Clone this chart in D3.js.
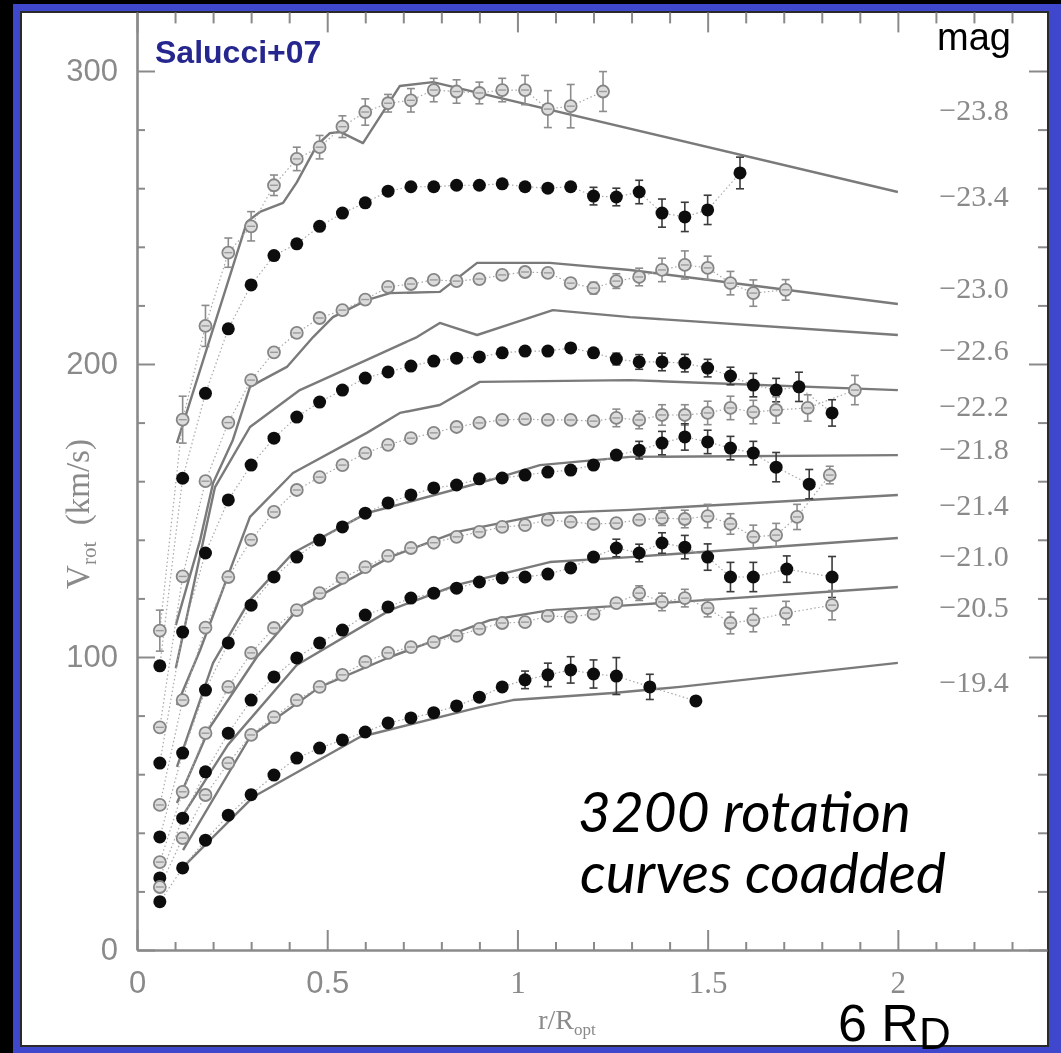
<!DOCTYPE html>
<html><head><meta charset="utf-8">
<script src="https://cdn.jsdelivr.net/npm/d3@7"></script>
<style>html,body{margin:0;padding:0;background:#000;} svg{display:block}</style>
</head><body>
<svg id="chart" width="1061" height="1053"></svg>
<script>
// ---------- data ----------
const R = [0.06,0.12,0.18,0.24,0.30,0.36,0.42,0.48,0.54,0.60,0.66,0.72,0.78,0.84,0.90,0.96,1.02,1.08,1.14,1.20,1.26,1.32,1.38,1.44,1.50,1.56,1.62,1.68,1.74];

const s1_r = R.slice(0,19).concat([1.225]);
const s1_v = [109,181,213,238,247,261,270,274,281,286,289,290,293.5,293,292.5,293.5,293.5,287,288,293];
const s1_e = [7,8,7,5,5,3.5,4,4,3.7,4.5,3,4,4,4,3.7,4,5,6.3,7.4,6.8];

const s2_r = R.slice(0,25).concat([1.585]);
const s2_v = [97,161,190,212,227,237,241,247,251.5,255,259,260.5,260.5,261,261,261.5,260.5,260,260.5,257.3,257,258.7,251.5,250.2,252.6,265.2];
const s2_e = [0,0,0,0,0,0,0,0,0,0,0,0,0,0,0,0,0,0,0,3,3,4,4.8,5,5,5.4];

const s3_r = R.slice(0,27).concat([1.705]);
const s3_v = [76,127.5,160,180,194.5,204,210.6,215.7,218.4,222,226.3,227.3,228.7,228.3,229,230.4,231.4,231.1,227.6,225.9,228.3,229.7,232.1,233.8,232.8,227.6,224.2,225.3];
const s3_e = [0,0,0,0,0,0,0,0,0,0,0,0,0,0,0,0,0,0,0,2,2.5,3,4,4.8,4,4,4.5,3.5];

const s4_r = R.slice(0,29).concat([1.827]);
const s4_v = [63.8,108.5,135.5,153.6,165.5,174.7,181.9,187,191.1,195.2,197.3,199.3,201,202,202.4,203.8,204.4,204.4,205.5,203.8,201.7,200.7,200.7,200.3,198.6,195.9,192.8,191.1,192.2,183.3];
const s4_e = [0,0,0,0,0,0,0,0,0,0,0,0,0,0,0,0,0,0,0,0,2,2.5,3,3,3,3,4,4,5,4.5];

const s5_r = R.slice(0,28).concat([1.763,1.887]);
const s5_v = [49.5,85.3,110,127.3,140,149.5,157,161.4,165.5,169.6,172.4,174.7,176.5,178.5,179.9,180.9,181.2,180.9,180.9,180.5,181.6,180.9,182.6,182.6,183.3,185,183.6,184.3,185,191.1];
const s5_e = [0,0,0,0,0,0,0,0,0,0,0,0,0,0,0,0,0,0,0,0,3,3,3.5,3.5,4,4,4,4.5,4.5,5];

const s6_r = R.slice(0,28).concat([1.767]);
const s6_v = [38.6,67.2,88.7,104.8,117.7,127.3,134.1,139.9,144.4,149.1,152.6,155.3,157.7,158.7,160.8,161.1,162.1,163.1,163.8,165.5,168.9,170.6,173,175.1,173.4,171.3,169.6,164.8,159];
const s6_e = [0,0,0,0,0,0,0,0,0,0,0,0,0,0,0,0,0,0,0,0,0,3,4,4.5,4,4,4,5,5];

const s7_r = R.slice(0,28).concat([1.735,1.821]);
const s7_v = [30,54,74,89.8,101.4,109.9,116,121.8,127,130.7,134.5,137.2,139,141,142.7,144.4,145,146.8,146.1,145.4,145.7,146.8,147.4,147.1,148.1,145.4,141,141.6,147.8,162.1];
const s7_e = [0,0,0,0,0,0,0,0,0,0,0,0,0,0,0,0,0,0,0,0,0,0,2.5,3,4,3.5,4,4,4.3,3];

const s8_r = R.slice(0,27).concat([1.708,1.827]);
const s8_v = [24.6,45,60.8,74,85.3,93.2,99.7,104.8,109.2,114.3,117.1,120.1,121.8,123.5,125.6,127,127.3,128.3,130.4,134.1,137.2,135.5,138.9,137.5,134.1,127.3,127.3,130,127.3];
const s8_e = [0,0,0,0,0,0,0,0,0,0,0,0,0,0,0,0,0,0,0,0,3,3,3.5,4,4.5,5,5,4.5,7];

const s9_r = R.slice(0,27).concat([1.706,1.827]);
const s9_v = [21.5,38.2,52.9,63.8,73.4,79.5,85.3,89.8,93.9,98.3,101.4,103.4,105.1,107.2,109.6,111.6,111.9,114,113.7,114.7,118.4,121.8,118.8,120.1,116.7,111.6,112.6,115,117.7];
const s9_e = [0,0,0,0,0,0,0,0,0,0,0,0,0,0,0,0,0,0,0,0,0,2.5,3,3,3,3.7,4,4,5];

const s10_r = R.slice(0,21).concat([1.348,1.469]);
const s10_v = [16.5,28,37.5,46,53,59.7,65.5,68.9,71.7,74.4,77.5,79.2,81,83.3,86.3,89.8,92.2,93.9,95.6,94.2,93.5,89.8,85];
const s10_e = [0,0,0,0,0,0,0,0,0,0,0,0,0,0,0,0,3,4,4.5,4.8,6.3,4.3,0];

// model curves (solid lines)
const model1 = [[0.105,173],[0.289,248.5],[0.323,251.9],[0.384,255],[0.42,262],[0.473,274.7],[0.507,278.8],[0.534,279.2],[0.594,275.4],[0.691,294.9],[0.778,296.2],[2.0,258.7]];
const model2 = [[0.102,110.9],[0.166,139.9],[0.2,159.4],[0.252,174.1],[0.297,192.2],[0.329,194.5],[0.394,199],[0.463,209.2],[0.515,216],[0.604,221.8],[0.665,224.2],[0.796,224.6],[0.894,234.5],[1.085,234.5],[1.296,232.1],[2.0,220.5]];
const model3 = [[0.102,96.2],[0.166,134.8],[0.205,158],[0.297,178.5],[0.428,191.1],[0.604,201.4],[0.736,209.2],[0.796,214],[0.894,209.9],[1.093,218.4],[1.296,216],[2.0,209.9]];
const model4 = [[0.105,83.6],[0.166,102.4],[0.297,147.8],[0.41,162.8],[0.604,176.5],[0.691,183.3],[0.796,186],[0.901,193.9],[1.296,194.5],[2.0,191.1]];
const model5 = [[0.105,62.5],[0.2,98],[0.297,119.5],[0.41,135.5],[0.604,149.1],[0.665,151.2],[0.928,160.4],[1.059,165.5],[1.296,168.3],[2.0,168.9]];
const model6 = [[0.105,50.2],[0.192,76.1],[0.315,100],[0.428,117.1],[0.665,134.1],[0.841,142.7],[1.085,149.1],[1.296,150.2],[2.0,155.3]];
const model7 = [[0.113,44.4],[0.239,70],[0.42,97.3],[0.665,116],[0.841,124.6],[1.085,132.4],[1.296,134.1],[2.0,140.6]];
const model8 = [[0.121,34.1],[0.297,72.7],[0.481,89.8],[0.665,100],[0.928,112.6],[1.085,116],[1.296,117.7],[2.0,123.9]];
const model9 = [[0.121,28.3],[0.305,52.2],[0.586,72.7],[0.901,82.9],[0.988,85.3],[1.251,87.7],[1.427,89.8],[2.0,98]];

const magLabels = ["\u221223.8","\u221223.4","\u221223.0","\u221222.6","\u221222.2","\u221221.8","\u221221.4","\u221221.0","\u221220.5","\u221219.4"];
const magLabelV = [287,257.5,226,205,186,171,152,134.5,117.4,91.5];

const yMajor = [0,100,200,300];
const yMinor = [20,40,60,80,120,140,160,180,220,240,260,280];
const xMajor = [0,0.5,1,1.5,2];
const xMinor = [0.1,0.2,0.3,0.4,0.6,0.7,0.8,0.9,1.1,1.2,1.3,1.4,1.6,1.7,1.8,1.9,2.1,2.2,2.3];

const series = [
  {r:s1_r,v:s1_v,e:s1_e,open:true},
  {r:s2_r,v:s2_v,e:s2_e,open:false},
  {r:s3_r,v:s3_v,e:s3_e,open:true},
  {r:s4_r,v:s4_v,e:s4_e,open:false},
  {r:s5_r,v:s5_v,e:s5_e,open:true},
  {r:s6_r,v:s6_v,e:s6_e,open:false},
  {r:s7_r,v:s7_v,e:s7_e,open:true},
  {r:s8_r,v:s8_v,e:s8_e,open:false},
  {r:s9_r,v:s9_v,e:s9_e,open:true},
  {r:s10_r,v:s10_v,e:s10_e,open:false}
];
const models = [model1,model2,model3,model4,model5,model6,model7,model8,model9];

// ---------- drawing ----------
const svg = d3.select("#chart");
const defs = svg.append("defs");
defs.append("filter").attr("id","soft").attr("x","-5%").attr("y","-5%").attr("width","110%").attr("height","110%")
  .append("feGaussianBlur").attr("stdDeviation",0.7);

svg.append("rect").attr("width",1061).attr("height",1053).attr("fill","#000");
svg.append("rect").attr("x",13).attr("y",4).attr("width",1048).attr("height",1049).attr("fill","#3f48cc");
svg.append("rect").attr("x",21).attr("y",12).attr("width",1027).attr("height",1034)
  .attr("fill","#fff").attr("stroke","#2a2a2a").attr("stroke-width",2);

const x = d3.scaleLinear().domain([0,2.392]).range([137,1047]);
const y = d3.scaleLinear().domain([0,320]).range([950,12.4]);

const g = svg.append("g").attr("filter","url(#soft)");
const AX = "#8a8a8a";
const SANS = "'Liberation Sans', Arial, sans-serif";
const SERIF = "'Liberation Serif', 'Times New Roman', serif";

function styleAxis(sel, keepDomain){
  sel.selectAll(".tick line").attr("stroke",AX).attr("stroke-width",2);
  if(keepDomain) sel.select(".domain").attr("stroke",AX).attr("stroke-width",2.6);
  else sel.select(".domain").remove();
  sel.selectAll("text").attr("fill",AX);
}

// left
const gl = g.append("g").attr("transform","translate(137,0)")
  .call(d3.axisLeft(y).tickValues(yMajor).tickSize(-18).tickSizeOuter(0).tickPadding(19).tickFormat(d3.format("d")));
styleAxis(gl,true);
gl.selectAll("text").attr("font-family",SANS).attr("font-size",31);
const glm = g.append("g").attr("transform","translate(137,0)")
  .call(d3.axisLeft(y).tickValues(yMinor).tickSize(-8).tickFormat(()=>""));
styleAxis(glm,false);
// right
const gr = g.append("g").attr("transform","translate(1047,0)")
  .call(d3.axisRight(y).tickValues(yMajor).tickSize(-18).tickFormat(()=>""));
styleAxis(gr,false);
const grm = g.append("g").attr("transform","translate(1047,0)")
  .call(d3.axisRight(y).tickValues(yMinor).tickSize(-9).tickFormat(()=>""));
styleAxis(grm,false);
// bottom
const gb = g.append("g").attr("transform","translate(0,950)")
  .call(d3.axisBottom(x).tickValues(xMajor).tickSize(-20).tickSizeOuter(0).tickPadding(21).tickFormat(d3.format("~g")));
styleAxis(gb,true);
gb.selectAll("text").attr("font-size",31).attr("font-family",d => d>=1 ? SERIF : SANS);
const gbm = g.append("g").attr("transform","translate(0,950)")
  .call(d3.axisBottom(x).tickValues(xMinor).tickSize(-8).tickFormat(()=>""));
styleAxis(gbm,false);
// top
const gt = g.append("g").attr("transform","translate(0,12.4)")
  .call(d3.axisTop(x).tickValues(xMajor).tickSize(-20).tickFormat(()=>""));
styleAxis(gt,false);
const gtm = g.append("g").attr("transform","translate(0,12.4)")
  .call(d3.axisTop(x).tickValues(xMinor).tickSize(-11).tickFormat(()=>""));
styleAxis(gtm,false);

// axis titles
const yl = g.append("text").attr("transform","translate(89,514) rotate(-90)")
  .attr("text-anchor","middle").attr("font-family",SERIF).attr("font-size",33).attr("fill",AX);
yl.append("tspan").text("V");
yl.append("tspan").attr("font-size",21).attr("dy",7).text("rot");
yl.append("tspan").attr("dy",-7).text("\u2002(km/s)");

const xl = g.append("text").attr("x",567).attr("y",1029).attr("text-anchor","middle")
  .attr("font-family",SERIF).attr("font-size",28).attr("fill",AX);
xl.append("tspan").text("r/R");
xl.append("tspan").attr("font-size",17).attr("dy",6).text("opt");

// magnitude labels
g.append("g").selectAll("text").data(magLabels).join("text")
  .attr("x",x(2.2)).attr("y",(d,i)=>y(magLabelV[i])).attr("dy","0.35em")
  .attr("text-anchor","middle").attr("font-family",SERIF).attr("font-size",30).attr("fill",AX)
  .text(d=>d);

// model lines
const line = d3.line().x(d=>x(d[0])).y(d=>y(d[1]));
g.append("g").selectAll("path").data(models).join("path")
  .attr("d",line).attr("fill","none").attr("stroke","#7a7a7a").attr("stroke-width",2.4)
  .attr("stroke-linejoin","round");

// dotted connections
const ptLine = d3.line().x(d=>x(d.r)).y(d=>y(d.v));
series.forEach(s=>{
  const pts = s.r.map((r,i)=>({r:r,v:s.v[i],e:s.e[i]}));
  s.pts = pts;
  g.append("path").attr("d",ptLine(pts)).attr("fill","none")
    .attr("stroke","#a8a8a8").attr("stroke-width",1.2).attr("stroke-dasharray","1.5,2.5");
});

// error bars and markers
series.forEach(s=>{
  const col = s.open ? "#8c8c8c" : "#3a3a3a";
  const eb = g.append("g").attr("stroke",col).attr("stroke-width",1.6);
  s.pts.filter(p=>p.e>0).forEach(p=>{
    const cx = x(p.r), y0 = y(p.v - p.e), y1 = y(p.v + p.e);
    eb.append("line").attr("x1",cx).attr("x2",cx).attr("y1",y0).attr("y2",y1);
    eb.append("line").attr("x1",cx-4).attr("x2",cx+4).attr("y1",y0).attr("y2",y0);
    eb.append("line").attr("x1",cx-4).attr("x2",cx+4).attr("y1",y1).attr("y2",y1);
  });
  const mk = g.append("g");
  if(s.open){
    mk.selectAll("circle").data(s.pts).join("circle")
      .attr("cx",p=>x(p.r)).attr("cy",p=>y(p.v)).attr("r",6)
      .attr("fill","#dcdcdc").attr("stroke","#858585").attr("stroke-width",1.8);
    mk.selectAll("line").data(s.pts).join("line")
      .attr("x1",p=>x(p.r)-4).attr("x2",p=>x(p.r)+4)
      .attr("y1",p=>y(p.v)).attr("y2",p=>y(p.v))
      .attr("stroke","#9a9a9a").attr("stroke-width",1.4);
  } else {
    mk.selectAll("circle").data(s.pts).join("circle")
      .attr("cx",p=>x(p.r)).attr("cy",p=>y(p.v)).attr("r",6.5)
      .attr("fill","#111");
  }
});

// overlay annotations (sharp)
svg.append("text").attr("x",155).attr("y",63).attr("font-family",SANS).attr("font-weight","bold")
  .attr("font-size",32).attr("fill","#26268f").text("Salucci+07");
svg.append("text").attr("x",937).attr("y",50).attr("font-family",SANS)
  .attr("font-size",38).attr("fill","#000").text("mag");

const t1 = svg.append("text").attr("x",578).attr("y",832).attr("font-family","Lato, 'Open Sans', sans-serif")
  .attr("font-style","italic").attr("font-size",52).attr("fill","#000").text("3200 rotation");
const t2 = svg.append("text").attr("x",580).attr("y",893).attr("font-family","Lato, 'Open Sans', sans-serif")
  .attr("font-style","italic").attr("font-size",52).attr("fill","#000").text("curves coadded");
const w1 = t1.node().getComputedTextLength(), w2 = t2.node().getComputedTextLength();
const fs = 52 * ((334/w1) + (365/w2)) / 2;
t1.attr("font-size",fs); t2.attr("font-size",fs);

const rd = svg.append("text").attr("x",838).attr("y",1041).attr("font-family",SANS)
  .attr("font-size",52).attr("fill","#000");
rd.append("tspan").text("6 R");
rd.append("tspan").attr("font-size",44).attr("dy",8).text("D");
</script>
</body></html>
